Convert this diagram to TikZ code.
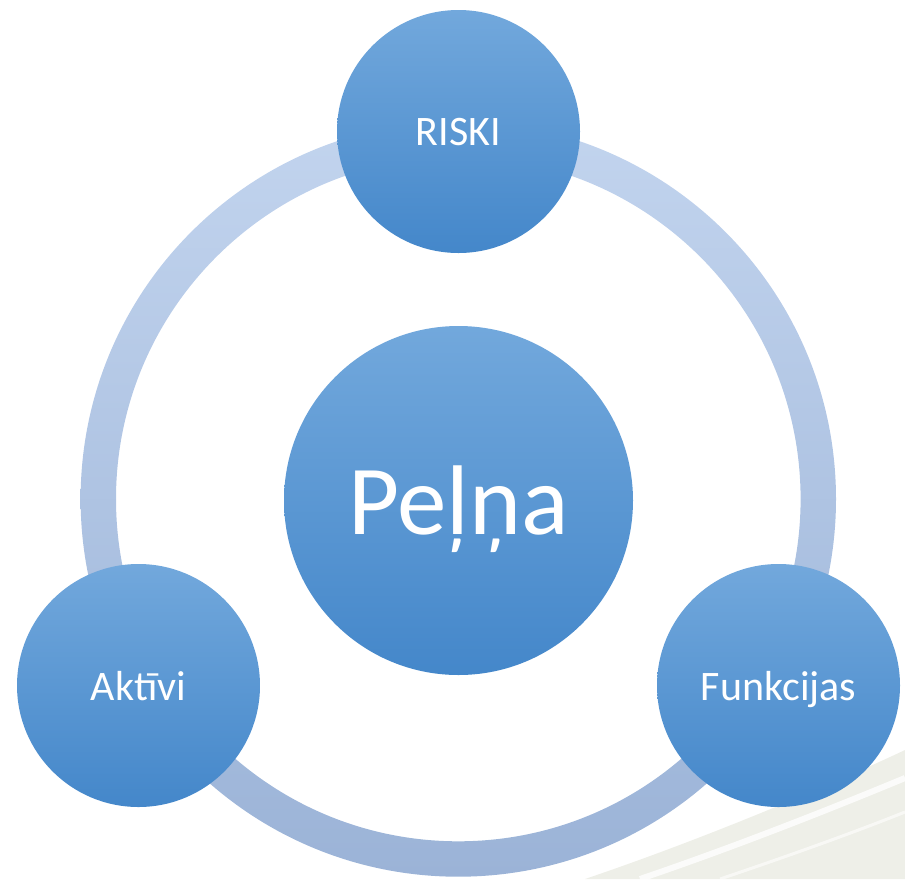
\documentclass[tikz,border=0pt]{standalone}
\usepackage{fontspec}
\setmainfont{Carlito}
\definecolor{bubbletop}{HTML}{72A8DC}
\definecolor{bubblebot}{HTML}{4487CA}
\definecolor{ringtop}{HTML}{C2D4EE}
\definecolor{ringbot}{HTML}{9BB3D7}
\definecolor{paper}{HTML}{EEEFE8}
\tikzset{
  bubble/.style={circle, inner sep=0pt, minimum size=243pt, text=white,
    top color=bubbletop, bottom color=bubblebot, text depth=0pt,
    font=\fontsize{42}{50}\selectfont},
  bigbubble/.style={bubble, minimum size=349pt,
    font=\fontsize{99}{110}\selectfont}
}

\begin{document}
\begin{tikzpicture}[x=1pt,y=-1pt]
  \useasboundingbox (0,0) rectangle (905,879);

  % faint background sheet in the corner
  \fill[paper] (585,879) .. controls (700,840) and (820,790) .. (905,750) -- (905,879) -- cycle;
  \draw[white, line width=6pt, opacity=0.8] (640,879) .. controls (740,845) and (840,805) .. (905,778);
  \draw[white, line width=3pt, opacity=0.6] (720,879) .. controls (800,852) and (860,830) .. (905,812);

  % ring behind the bubbles
  \coordinate (hub) at (458.3,499);
  \shade[top color=ringtop, bottom color=ringbot, even odd rule]
    (hub) circle (377.7) (hub) circle (342.3);

  \node[bigbubble] (pelna) at (458.5,500.5) {Peļņa};
  \node[bubble] (riski) at (458.5,131.5) {RISKI};
  \node[bubble] (aktivi) at (138.5,685.5) {Aktīvi};
  \node[bubble] (funkcijas) at (778.5,685.5) {Funkcijas};
\end{tikzpicture}
\end{document}
